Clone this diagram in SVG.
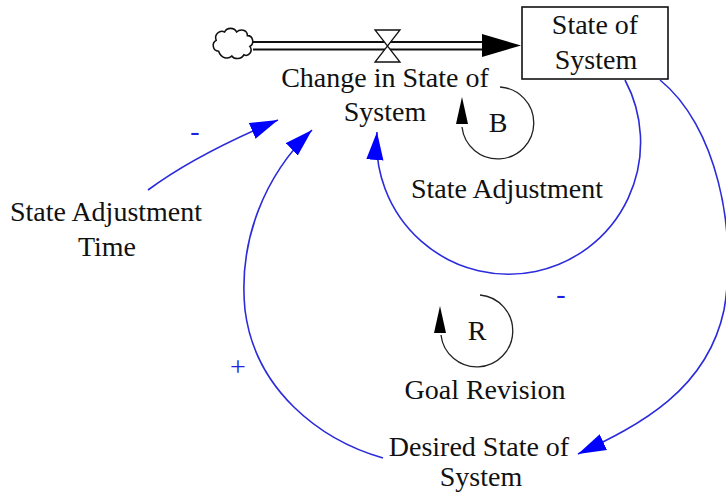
<svg xmlns="http://www.w3.org/2000/svg" width="726" height="496" viewBox="0 0 726 496">
<style>
text { font-family: "Liberation Serif", "Times New Roman", serif; font-size: 28px; fill: #111; text-anchor: middle; }
.sign { fill: #2020e0; }
.link { fill: none; stroke: #2b2bdc; stroke-width: 1.6; }
.loop { fill: none; stroke: #222; stroke-width: 1.3; }
.pipe { stroke: #111; stroke-width: 2; }
</style>
<defs>
<marker id="ab" markerUnits="userSpaceOnUse" markerWidth="28" markerHeight="18" viewBox="0 0 26 16" refX="26" refY="8" orient="auto">
<path d="M0,0 L26,8 L0,16 z" fill="#0000ff"/>
</marker>
</defs>
<rect width="726" height="496" fill="#fff"/>

<g id="cloud">
<path transform="translate(233,44) scale(1.2) translate(-231,-44)" d="M219,50 c-5,0 -6,-7 -2,-9 c-2,-5 3,-9 7,-7 c2,-4 8,-4 10,0 c3,-3 9,-2 9,3 c5,0 6,7 2,9 c3,4 -1,9 -5,7 c-2,4 -8,4 -10,1 c-3,3 -9,2 -11,-4 z" fill="#fff" stroke="#111" stroke-width="1.3"/>
</g>

<g id="flow-change">
<line class="pipe" x1="253" y1="42" x2="484" y2="42"/>
<line class="pipe" x1="253" y1="49.5" x2="484" y2="49.5"/>
<polygon points="482,34 521,45.5 482,57" fill="#000"/>
<polygon points="375,30 400,30 375,62 400,62" fill="#fff" stroke="#111" stroke-width="1.3"/>
<text x="385" y="87">Change in State of</text>
<text x="385" y="121">System</text>
</g>

<g id="stock-state">
<rect x="522" y="7" width="146" height="72" fill="#fff" stroke="#111" stroke-width="1.6"/>
<text x="595" y="34">State of</text>
<text x="596" y="69">System</text>
</g>

<g id="state-adjustment-time">
<text x="106" y="221">State Adjustment</text>
<text x="107" y="256">Time</text>
</g>

<g id="desired-state">
<text x="479" y="456">Desired State of</text>
<text x="481" y="486">System</text>
</g>

<g id="loop-b">
<path class="loop" d="M500,87 A36,36 0 1 1 462,127"/>
<polygon points="462,97 456,124 468,124" fill="#000"/>
<text x="498" y="132">B</text>
<text x="507" y="198">State Adjustment</text>
</g>

<g id="loop-r">
<path class="loop" d="M480,295 A36,36 0 1 1 441,335"/>
<polygon points="440,306 434,333 446,333" fill="#000"/>
<text x="477" y="340">R</text>
<text x="485" y="399">Goal Revision</text>
</g>

<g id="connectors">
<path class="link" d="M148,190 Q195,155 278,120" marker-end="url(#ab)"/>
<path class="link" d="M383,458 C320,440 255,390 245,310 C238,240 265,175 312,130" marker-end="url(#ab)"/>
<path class="link" d="M625,80 A132,132 0 1 1 377,132" marker-end="url(#ab)"/>
<path class="link" d="M660,80 C716,125 738,230 724,310 C707,390 640,425 578,454" marker-end="url(#ab)"/>
<text class="sign" x="195" y="140">-</text>
<text class="sign" x="238" y="376">+</text>
<text class="sign" x="561" y="303">-</text>
</g>
</svg>
